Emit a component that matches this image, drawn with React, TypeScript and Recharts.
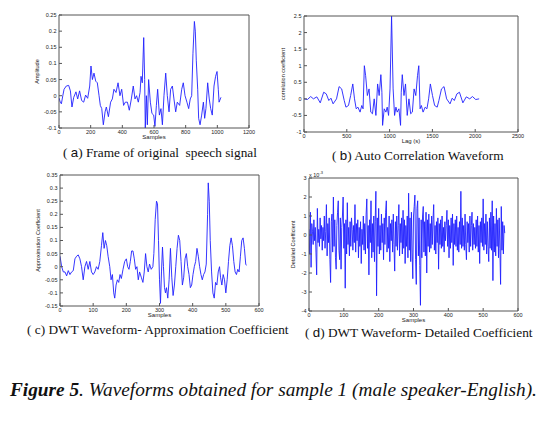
import { LineChart, Line, XAxis, YAxis } from "recharts"

// (a) frame of original speech signal: [sample, amplitude]
const frameSignal: [number, number][] = [
  [0, -0.007], [8, -0.02], [15, -0.025], [24, 0.0], [32, 0.02], [46, 0.03], [61, 0.032], [72, 0.015],
  [82, -0.035], [93, -0.005], [107, 0.012], [118, -0.01], [130, 0.015], [143, -0.015], [156, -0.02],
  [168, 0.002], [181, -0.008], [194, 0.03], [202, 0.092], [211, 0.05], [221, 0.07], [232, 0.045],
  [242, 0.04], [253, 0.0], [261, -0.03], [270, -0.04], [280, -0.09], [291, -0.05], [299, -0.035],
  [312, -0.065], [326, -0.02], [337, -0.01], [347, 0.02], [360, 0.01], [373, 0.04], [385, 0.0],
  [396, 0.02], [408, -0.03], [419, -0.02], [432, -0.02], [444, -0.045], [457, -0.01], [469, 0.03],
  [480, -0.01], [490, 0.0], [501, -0.02], [512, 0.01], [518, 0.06], [526, 0.04], [535, 0.18],
  [541, 0.05], [545, -0.1], [552, 0.0], [558, -0.09], [566, 0.05], [577, -0.02], [587, -0.055],
  [598, -0.06], [606, -0.095], [615, -0.03], [623, 0.02], [634, -0.06], [644, -0.04], [653, -0.09],
  [663, 0.0], [674, 0.07], [684, 0.0], [695, -0.05], [705, 0.02], [716, 0.03], [726, -0.01],
  [737, -0.05], [747, -0.02], [762, -0.03], [775, 0.02], [785, 0.04], [796, 0.0], [808, -0.02],
  [819, -0.04], [829, -0.01], [838, 0.0], [846, 0.13], [855, 0.23], [861, 0.2], [867, 0.11],
  [876, 0.02], [882, -0.07], [891, -0.09], [901, -0.06], [912, -0.02], [920, -0.07], [928, -0.04],
  [939, 0.04], [949, -0.01], [958, -0.04], [968, -0.06], [979, 0.03], [989, 0.06], [998, 0.075],
  [1006, 0.02], [1011, -0.02], [1019, -0.01], [1023, -0.005],
]

// (b) auto correlation: [lag, coefficient]
const autoCorr: [number, number][] = [
  [0, 0], [40, -0.02], [78, 0.07], [110, 0.0], [150, 0.06], [190, -0.12], [230, 0.2], [260, 0.15],
  [290, -0.05], [315, 0.02], [340, -0.15], [380, 0.0], [410, 0.37], [440, 0.3], [470, -0.05],
  [490, -0.25], [520, -0.2], [545, 0.1], [570, 0.45], [590, 0.0], [610, -0.3], [630, -0.25],
  [655, -0.4], [675, -0.2], [690, -0.3], [705, 1.0], [720, 0.7], [740, 0.1], [760, 0.3], [780, -0.4],
  [800, -0.45], [820, 0.0], [840, -0.5], [860, 0.45], [878, 0.1], [898, 0.73], [910, 0.2], [918, -0.8],
  [937, -0.3], [957, -0.4], [972, -0.25], [988, -0.5], [1005, 0.3], [1023, 2.5], [1041, 0.3],
  [1058, -0.5], [1074, -0.25], [1089, -0.4], [1109, -0.3], [1128, -0.8], [1136, 0.2], [1148, 0.73],
  [1168, 0.1], [1186, 0.45], [1206, -0.5], [1226, 0.0], [1246, -0.45], [1266, -0.4], [1286, 0.3],
  [1306, 0.1], [1326, 0.7], [1341, 1.0], [1356, -0.3], [1371, -0.2], [1391, -0.4], [1416, -0.25],
  [1436, -0.3], [1456, 0.0], [1476, 0.45], [1501, 0.1], [1526, -0.2], [1556, -0.25], [1576, -0.05],
  [1606, 0.3], [1636, 0.37], [1666, 0.0], [1706, -0.15], [1731, 0.02], [1756, -0.05], [1786, 0.15],
  [1816, 0.2], [1856, -0.12], [1896, 0.06], [1936, 0.0], [1968, 0.07], [2006, -0.02], [2046, 0],
]

// (c) DWT approximation coefficient: [sample, value]
const approxCoef: [number, number][] = [
  [0, 0.04], [5, 0.0], [10, -0.02], [15, -0.02], [20, -0.035], [25, -0.015], [30, -0.03], [35, -0.02],
  [40, -0.015], [45, 0.03], [50, 0.04], [55, 0.045], [60, 0.03], [65, 0.0], [70, -0.05], [75, 0.0],
  [80, 0.02], [85, -0.01], [90, 0.02], [95, -0.02], [100, -0.03], [105, -0.02], [110, 0.0], [115, -0.01],
  [120, 0.02], [125, 0.08], [129, 0.13], [133, 0.07], [137, 0.1], [141, 0.08], [145, 0.04], [150, 0.0],
  [154, -0.05], [158, -0.03], [162, -0.1], [165, -0.12], [169, -0.07], [173, -0.05], [177, -0.06],
  [181, -0.03], [185, -0.045], [190, -0.01], [195, 0.02], [200, 0.03], [204, 0.0], [208, -0.01],
  [212, 0.02], [216, 0.06], [220, 0.06], [224, 0.03], [228, -0.01], [232, 0.0], [236, -0.05],
  [240, -0.02], [245, -0.04], [250, -0.06], [254, -0.02], [258, 0.05], [262, 0.0], [266, -0.02],
  [270, 0.01], [275, -0.01], [280, 0.0], [283, 0.05], [287, 0.18], [291, 0.25], [294, 0.24], [297, 0.1],
  [300, -0.05], [303, -0.14], [306, -0.02], [309, 0.075], [312, 0.0], [315, -0.08], [318, -0.1],
  [321, -0.08], [325, -0.12], [329, -0.05], [333, 0.07], [337, -0.04], [341, -0.11], [345, -0.07],
  [349, 0.0], [353, 0.07], [357, 0.12], [361, 0.1], [365, 0.02], [369, -0.07], [373, -0.04], [377, 0.03],
  [381, 0.05], [385, 0.0], [389, -0.03], [393, -0.08], [397, -0.07], [401, -0.03], [405, 0.0],
  [409, 0.02], [413, 0.07], [417, 0.04], [421, 0.0], [425, -0.03], [429, -0.05], [433, -0.03],
  [437, -0.02], [441, 0.01], [445, 0.2], [447, 0.32], [450, 0.25], [453, 0.1], [457, -0.02], [461, -0.1],
  [465, -0.12], [469, -0.06], [473, -0.07], [477, -0.02], [481, 0.0], [484, -0.04], [488, -0.07],
  [492, -0.03], [496, -0.05], [500, -0.1], [504, -0.05], [508, 0.02], [512, 0.08], [516, 0.11],
  [520, 0.08], [524, 0.02], [528, -0.02], [532, -0.03], [536, -0.01], [540, -0.02], [544, 0.04],
  [548, 0.1], [552, 0.11], [556, 0.07], [560, 0.01], [562, 0.005],
]

// (d) DWT detailed coefficient, in units of 10^-3, one value every detailStep samples
const detailStep = 2
const detailCoef: number[] = [
  0.3, -1.0, 1.2, -1.7, 0.6, 0.2, -0.5, 0.8, -0.3, 0.4, -0.9, -2.1, 1.4, -0.4, 0.3, -0.6, 0.9, -0.2, 0.5, -0.8,
  0.4, -0.3, 1.0, -0.7, 0.2, 1.6, -1.1, 0.6, -0.4, 0.9, -1.3, -2.5, 0.7, 1.1, -0.9, 2.0, -0.6, 0.8, -1.2, -1.8,
  0.5, 1.2, 1.8, -0.8, -1.3, 0.9, -1.8, 0.4, 1.0, 2.0, -0.7, 0.6, -2.8, 0.8, -1.0, 1.7, -0.5, 0.4, -1.1, 0.7,
  -0.6, 0.9, 0.3, -0.8, 0.5, -0.4, 1.6, -0.9, 0.6, -0.3, 0.8, -1.2, 0.4, -0.6, 0.7, -1.5, 0.3, -0.5, 1.0, -0.8,
  0.6, -1.0, 1.1, 1.9, -0.7, 0.5, -2.1, 0.8, -0.4, 1.8, -1.2, 0.6, -0.9, 1.0, -1.4, 0.7, 2.3, -3.2, 0.9, -0.6,
  1.4, -1.0, 0.5, -0.8, 1.1, -0.4, 0.6, -1.3, 0.9, -0.5, 1.2, 1.8, -0.9, 0.4, -0.7, 1.0, -1.4, 0.6, -0.3, 0.8,
  -0.9, 1.1, -0.5, -1.9, 0.7, -0.6, 1.0, -0.8, 0.5, 1.6, -1.1, 0.6, -0.4, 0.9, -1.0, 1.3, -0.7, 0.8, -1.5, 0.5,
  -0.6, 1.0, -1.2, 2.2, -0.8, 0.9, -1.4, 1.2, -0.9, -2.3, 1.0, 1.5, 2.1, -1.3, -2.6, 1.4, 1.8, -1.1, 0.9, -1.6,
  -3.7, 0.8, -1.2, 1.0, 1.5, -0.9, 0.7, -1.1, 1.2, -2.0, 0.8, -0.6, 1.1, -0.9, 0.6, -0.7, 1.0, -0.5, 0.8, 1.6,
  -0.8, 0.5, -1.0, 0.7, -0.4, 0.9, -1.8, 0.6, -0.5, 0.8, -0.7, 1.0, -0.6, 0.4, -0.9, 0.7, -0.3, 0.5, 1.3, -0.6,
  0.8, -1.2, 0.5, -0.7, 0.9, -0.4, 1.1, -1.6, 0.6, -0.5, 0.8, -0.6, 1.0, -0.8, 0.4, -0.9, 0.7, -0.5, 2.3, -0.7,
  0.9, -0.6, 0.5, -0.8, 1.1, -0.5, -1.3, 0.7, -0.4, 0.6, -0.9, 1.0, -0.6, 0.5, 1.2, -0.8, 0.6, -0.5, 0.4, -0.7,
  0.8, -0.6, 1.0, -0.9, 0.5, -1.5, 0.7, -0.4, 0.9, -0.6, 1.9, -0.8, 0.6, -0.5, 1.1, -1.0, 0.7, -0.6, -1.4, 0.9,
  -0.7, 1.2, -0.8, 1.8, -2.4, 1.0, -0.9, 0.6, -1.1, 1.4, -0.6, 0.8, -1.2, 0.9, -0.7, -2.6, 1.5, -0.8, 0.7, -1.0,
  0.5, 0.1,
]

// axis ticks
const frameXTicks = [0, 200, 400, 600, 800, 1000, 1200]
const frameYTicks = [-0.1, -0.05, 0, 0.05, 0.1, 0.15, 0.2, 0.25]
const lagTicks = [0, 500, 1000, 1500, 2000, 2500]
const corrTicks = [-1, -0.5, 0, 0.5, 1, 1.5, 2, 2.5]
const dwtXTicks = [0, 100, 200, 300, 400, 500, 600]
const approxYTicks = [-0.15, -0.1, -0.05, 0, 0.05, 0.1, 0.15, 0.2, 0.25, 0.3, 0.35]
const detailYTicks = [-4, -3, -2, -1, 0, 1, 2, 3]

const BLUE = "#2020ff"
const AXIS = "#555"
const SANS = "'Liberation Sans', Arial, sans-serif"
const SERIF = "'Liberation Serif', 'Times New Roman', serif"

const fmt = (v: number) => String(Number(v.toFixed(3)))

type Rect = { x: number; y: number; w: number; h: number }

function WavePanel(props: {
  rect: Rect
  data: { x: number; y: number }[]
  xTicks: number[]
  yTicks: number[]
  xLabel: string
  yLabel: string
  yLabelOffset: number
}) {
  const { rect, data, xTicks, yTicks, xLabel, yLabel, yLabelOffset } = props
  const L = 36, T = 3, R = 10, B = 16
  const xDomain = [xTicks[0], xTicks[xTicks.length - 1]]
  const yDomain = [yTicks[0], yTicks[yTicks.length - 1]]
  const tickStyle = { fontSize: 5.5, fill: "#222", fontFamily: SANS }
  return (
    <div style={{ position: "absolute", left: rect.x - L, top: rect.y - T - 1 }}>
      <LineChart
        width={rect.w + L + R + 1}
        height={rect.h + T + B + 1}
        data={data}
        margin={{ top: T, right: R, left: 0, bottom: 0 }}
      >
        <XAxis
          dataKey="x"
          type="number"
          domain={xDomain}
          ticks={xTicks}
          allowDataOverflow
          height={B}
          stroke={AXIS}
          tickSize={-3}
          tickMargin={5}
          tick={tickStyle}
          tickFormatter={fmt}
          interval={0}
          label={{ value: xLabel, position: "insideBottom", offset: 5, fontSize: 6, fill: "#222", fontFamily: SANS }}
        />
        <XAxis
          xAxisId="top"
          dataKey="x"
          orientation="top"
          type="number"
          domain={xDomain}
          ticks={xTicks}
          allowDataOverflow
          height={1}
          stroke={AXIS}
          tickSize={-3}
          tick={false}
        />
        <YAxis
          type="number"
          domain={yDomain}
          ticks={yTicks}
          allowDataOverflow
          width={L}
          stroke={AXIS}
          tickSize={-3}
          tickMargin={5.5}
          tick={tickStyle}
          tickFormatter={fmt}
          interval={0}
          label={{
            value: yLabel,
            angle: -90,
            position: "insideLeft",
            offset: yLabelOffset,
            fontSize: 5.5,
            fill: "#222",
            fontFamily: SANS,
            style: { textAnchor: "middle" },
          }}
        />
        <YAxis
          yAxisId="right"
          orientation="right"
          type="number"
          domain={yDomain}
          ticks={yTicks}
          allowDataOverflow
          width={1}
          stroke={AXIS}
          tickSize={-3}
          tick={false}
        />
        <Line
          dataKey="y"
          stroke={BLUE}
          strokeWidth={0.9}
          dot={false}
          isAnimationActive={false}
          type="linear"
        />
      </LineChart>
    </div>
  )
}

const caption = (left: number, top: number, size = 13.3): React.CSSProperties => ({
  position: "absolute",
  left,
  top,
  fontFamily: SERIF,
  fontSize: size,
  lineHeight: `${Math.round(size + 2)}px`,
  whiteSpace: "nowrap",
  color: "#111",
})

const sansLetter = { fontFamily: SANS }

export default function App() {
  const frameData = frameSignal.map(([x, y]) => ({ x, y }))
  const corrData = autoCorr.map(([x, y]) => ({ x, y }))
  const approxData = approxCoef.map(([x, y]) => ({ x, y }))
  const detailData = detailCoef.map((y, i) => ({ x: i * detailStep, y }))

  return (
    <div style={{ position: "absolute", left: 0, top: 0, width: 548, height: 424, background: "#fff", overflow: "hidden" }}>
      <WavePanel rect={{ x: 59, y: 15, w: 190, h: 113 }} data={frameData} xTicks={frameXTicks} yTicks={frameYTicks}
        xLabel="Samples" yLabel="Amplitude" yLabelOffset={14} />
      <WavePanel rect={{ x: 304, y: 16, w: 214, h: 116 }} data={corrData} xTicks={lagTicks} yTicks={corrTicks}
        xLabel="Lag (s)" yLabel="correlation coefficient" yLabelOffset={15} />
      <WavePanel rect={{ x: 60, y: 175, w: 199, h: 131 }} data={approxData} xTicks={dwtXTicks} yTicks={approxYTicks}
        xLabel="Samples" yLabel="Approximation Coefficient" yLabelOffset={14} />
      <WavePanel rect={{ x: 309, y: 178, w: 209, h: 133 }} data={detailData} xTicks={dwtXTicks} yTicks={detailYTicks}
        xLabel="Samples" yLabel="Detailed Coefficient" yLabelOffset={20} />

      <div style={{ position: "absolute", left: 309, top: 170, fontSize: 5.5, fontFamily: SANS, color: "#222" }}>
        x 10<sup style={{ fontSize: 4 }}>-3</sup>
      </div>

      <div style={caption(63, 145)}>( <span style={sansLetter}>a</span>) Frame of original&nbsp; speech signal</div>
      <div style={caption(332, 148)}>( <span style={sansLetter}>b</span>) Auto Correlation Waveform</div>
      <div style={caption(27, 322)}>( c) DWT Waveform- Approximation Coefficient</div>
      <div style={caption(305, 325)}>( <span style={sansLetter}>d</span>) DWT Waveform- Detailed Coefficient</div>

      <div style={caption(10, 379, 19.3)}>
        <b><i>Figure 5</i></b><i>. Waveforms obtained for sample 1 (male speaker-English).</i>
      </div>
    </div>
  )
}
